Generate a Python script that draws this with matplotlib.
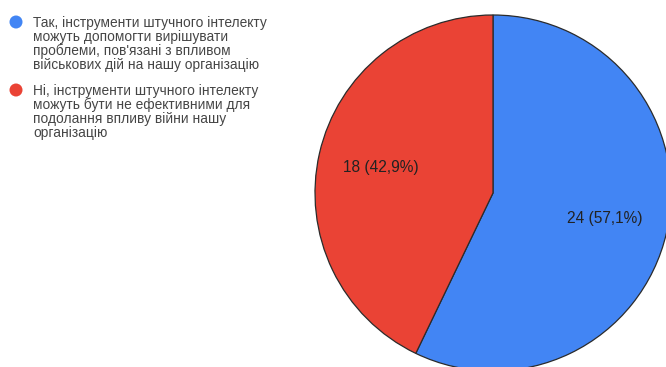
"""Pie chart of survey answers about AI tools and the impact of the war."""

import matplotlib.pyplot as plt
import matplotlib.patches as mpatches

# Survey results
answers = [
    ["Так, інструменти штучного інтелекту",
     "можуть допомогти вирішувати",
     "проблеми, пов'язані з впливом",
     "військових дій на нашу організацію"],
    ["Ні, інструменти штучного інтелекту",
     "можуть бути не ефективними для",
     "подолання впливу війни нашу",
     "організацію"],
]
counts = [24, 18]
colors = ["#4285F4", "#EA4335"]

W, H = 666, 367
total = sum(counts)

plt.rcParams["font.family"] = ["Liberation Sans", "DejaVu Sans"]

fig = plt.figure(figsize=(W / 100, H / 100), dpi=100)
ax = fig.add_axes([0, 0, 1, 1])


def fmt_label(pct):
    n = round(pct * total / 100)
    return f"{n} ({pct:.1f}%)".replace(".", ",")


wedges, texts, autotexts = ax.pie(
    counts, colors=colors, startangle=90, counterclock=False,
    center=(493, H - 193), radius=178, frame=True,
    autopct=fmt_label, pctdistance=0.645,
    wedgeprops=dict(edgecolor="#2b2b2b", linewidth=0.9),
    textprops=dict(fontsize=11.2, color="#222222"),
)
ax.set_xlim(0, W)
ax.set_ylim(0, H)
ax.set_aspect("equal")
ax.axis("off")

# Legend drawn by hand: dot plus wrapped text lines
item_tops = [27, 95]
for lines, color, base in zip(answers, colors, item_tops):
    ax.add_patch(mpatches.Circle((16, H - (base - 5)), 6.5, color=color, lw=0))
    for i, line in enumerate(lines):
        ax.text(33, H - (base + 14 * i), line, fontsize=9.9, color="#454545",
                va="baseline", ha="left")

fig.savefig("out.png", dpi=100)
